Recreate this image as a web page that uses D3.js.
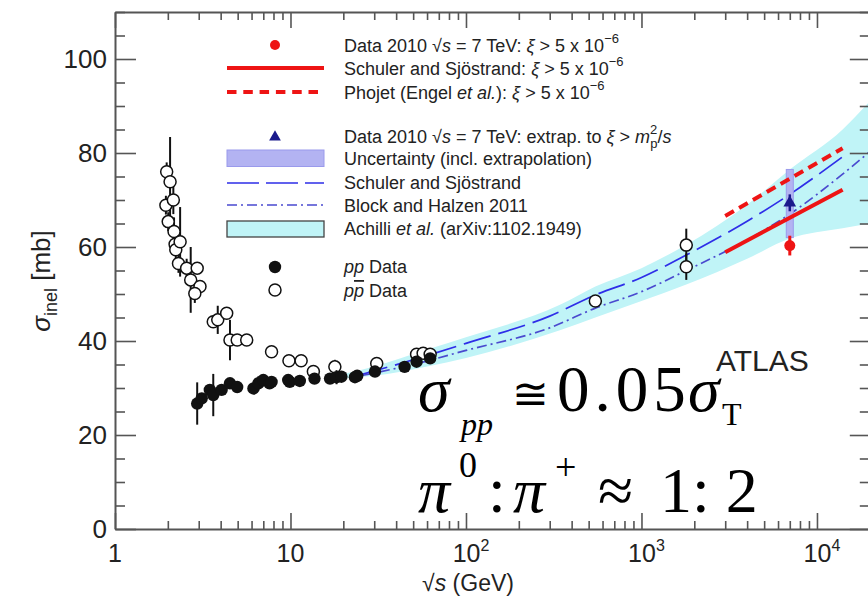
<!DOCTYPE html>
<html><head><meta charset="utf-8">
<script src="https://cdn.jsdelivr.net/npm/d3@7"></script>
<style>body{margin:0;background:#fff} svg{display:block}</style>
</head><body><svg id="c" width="868" height="603"></svg>
<script>
// ---------------- data (sqrt(s) in GeV, sigma in mb) ----------------
const ppbarData = [ // [sqrt s, sigma, err]
  [1.97,76.0,2],[2.06,73.9,9.5],[1.95,68.9,2],[2.15,70.0,3],[2.01,65.4,2],[2.17,63.3,3],
  [2.20,60.6,2],[2.22,59.4,2],[2.35,61.1,7.4],[2.30,56.5,2],[2.56,55.5,2],[2.94,55.5,1],
  [2.70,53.0,7],[3.05,51.6,1],[2.85,50.1,2],[3.63,44.1,1],[3.85,44.5,3],[4.33,45.9,1],
  [4.52,40.2,4.3],[4.97,40.2,1],[5.63,40.2,1],[7.8,37.7,0.5],[9.8,35.8,0.5],[11.5,35.8,0.5],
  [13.5,33.5,1.2],[17.9,34.5,1.5],[31,35.2,0.5],[52.3,37.2,0.5],[57,37.4,0.5],[62.5,37.2,0.5],
  [546,48.5,1],[1800,60.4,3.5],[1800,55.8,2.8]
];
const ppData = [
  [2.94,26.7,4.5],[3.12,27.8,1],[3.47,29.6,1],[3.63,28.5,4.5],[4.05,29.6,1],[4.52,31.0,1],
  [4.97,30.2,0.5],[6.15,29.9,0.5],[6.56,31.0,1.5],[7.0,31.7,0.5],[7.6,31.0,0.5],[7.8,31.3,0.5],
  [9.7,31.7,0.5],[9.9,31.3,0.3],[11.3,31.5,0.5],[13.7,32.0,0.5],[16.8,32.0,0.5],[18.3,32.3,1.5],
  [19.5,32.4,0.5],[23.3,32.3,0.5],[24,32.6,0.5],[30.3,33.5,0.5],[44.7,34.5,0.5],[52.3,35.6,0.5],
  [62.5,36.3,0.5]
];
const atlasXi = [[7000,60.3,2.1]];
const atlasExtrap = [[7000,69.4,1.8]];
const atlasUncert = [[7000,62.0,76.5]];          // [sqrt s, low, high]
const schulerXi = [[3000,58.9],[14000,72.2]];
const phojetXi = [[3000,66.6],[14000,81.0]];
const schulerTot = [[25,32.8],[50,36.0],[100,39.5],[300,45.3],[546,49.8],[1000,53.5],[1800,58.3],[4000,65.5],[7000,71.2],[14000,79.2]];
const blockHalzen = [[25,32.6],[50,35.0],[100,38.0],[300,42.8],[546,47.0],[1000,50.5],[1800,55.0],[4000,61.5],[7000,67.0],[14000,75.5],[20000,80.3]];
const achilliBand = [[20,32.0,33.0],[30,32.6,34.6],[60,34.6,38.2],[100,36.4,40.8],[343,42.3,47.7],[546,45.0,51.6],[1000,48.5,55.5],[1800,52.0,60.5],[4000,57.5,69.0],[7000,61.8,76.5],[14000,64.0,85.0],[20000,65.0,91.0]];
const xMajorTicks = [1,10,100,1000,10000];
const xTickLabels = [["1",""],["10",""],["10","2"],["10","3"],["10","4"]];
const yMajorTicks = [0,20,40,60,80,100];
const yTickLabels = ["0","20","40","60","80","100"];

// ---------------- setup ----------------
const svg = d3.select("#c");
const x = d3.scaleLog().domain([1,20000]).range([115,869.8]);
const y = d3.scaleLinear().domain([0,110]).range([529,12]);
const SANS = "'Liberation Sans', Arial, Helvetica, sans-serif";
const SERIF = "'Liberation Serif', 'Times New Roman', serif";
const AX = "#555";
const RED = "#ee1414";

const xTickValues = [];
xMajorTicks.forEach(d => { for (let m=1;m<=9;m++){ const v=m*d; if (v<=20000) xTickValues.push(v);} });
const yTickValues = d3.range(0,111,5);
const isMajorX = d => Math.abs(Math.log10(d)-Math.round(Math.log10(d)))<1e-9;
const isMajorY = d => d%20===0;

// ---------------- band & curves ----------------
svg.append("path").datum(achilliBand)
  .attr("d", d3.area().x(d=>x(d[0])).y0(d=>y(d[1])).y1(d=>y(d[2])).curve(d3.curveMonotoneX))
  .attr("fill","#c0f4f7");

const line = d3.line().x(d=>x(d[0])).y(d=>y(d[1])).curve(d3.curveMonotoneX);
svg.append("path").datum(schulerTot).attr("d",line).attr("fill","none")
  .attr("stroke","#2e2ee8").attr("stroke-width",1.7).attr("stroke-dasharray","28,8");
svg.append("path").datum(blockHalzen).attr("d",line).attr("fill","none")
  .attr("stroke","#4a4acf").attr("stroke-width",1.7).attr("stroke-dasharray","10,4,2,4");

// uncertainty box
svg.selectAll(".unc").data(atlasUncert).enter().append("rect")
  .attr("x",d=>x(d[0])-3.5).attr("width",7)
  .attr("y",d=>y(d[2])).attr("height",d=>y(d[1])-y(d[2]))
  .attr("fill","#b3b3f2").attr("stroke","#9a9aec").attr("stroke-width",1);

svg.append("path").datum(schulerXi).attr("d",line).attr("fill","none")
  .attr("stroke",RED).attr("stroke-width",4);
svg.append("path").datum(phojetXi).attr("d",line).attr("fill","none")
  .attr("stroke",RED).attr("stroke-width",4).attr("stroke-dasharray","10,6");

// ---------------- data points ----------------
function errBars(data, color, w){
  svg.append("g").selectAll("line").data(data).enter().append("line")
    .attr("x1",d=>x(d[0])).attr("x2",d=>x(d[0]))
    .attr("y1",d=>y(d[1]-d[2])).attr("y2",d=>y(d[1]+d[2]))
    .attr("stroke",color).attr("stroke-width",w);
}
errBars(ppbarData,"#111",2);
svg.append("g").selectAll("circle").data(ppbarData).enter().append("circle")
  .attr("cx",d=>x(d[0])).attr("cy",d=>y(d[1])).attr("r",6)
  .attr("fill","#fff").attr("stroke","#111").attr("stroke-width",1.5);
errBars(ppData,"#111",2);
svg.append("g").selectAll("circle").data(ppData).enter().append("circle")
  .attr("cx",d=>x(d[0])).attr("cy",d=>y(d[1])).attr("r",6.2).attr("fill","#111");

errBars(atlasExtrap,"#1a1a8c",2.5);
svg.append("g").selectAll("path").data(atlasExtrap).enter().append("path")
  .attr("d",d3.symbol().type(d3.symbolTriangle).size(70))
  .attr("transform",d=>`translate(${x(d[0])},${y(d[1])})`).attr("fill","#1a1a8c");
errBars(atlasXi,RED,3);
svg.append("g").selectAll("circle").data(atlasXi).enter().append("circle")
  .attr("cx",d=>x(d[0])).attr("cy",d=>y(d[1])).attr("r",5.5).attr("fill",RED);

// ---------------- axes ----------------
function styleAxis(g){
  g.select(".domain").attr("stroke",AX).attr("stroke-width",2);
  g.selectAll(".tick line").attr("stroke",AX).attr("stroke-width",1.6);
}
const gB = svg.append("g").attr("transform",`translate(0,${y(0)})`)
  .call(d3.axisTop(x).tickValues(xTickValues).tickFormat("").tickSizeOuter(0));
gB.selectAll(".tick line").attr("y2",d=>isMajorX(d)?-16:-8); styleAxis(gB);
const gT = svg.append("g").attr("transform",`translate(0,${y(110)})`)
  .call(d3.axisBottom(x).tickValues(xTickValues).tickFormat("").tickSizeOuter(0));
gT.selectAll(".tick line").attr("y2",d=>isMajorX(d)?16:8); styleAxis(gT);
const gL = svg.append("g").attr("transform",`translate(${x(1)},0)`)
  .call(d3.axisRight(y).tickValues(yTickValues).tickFormat("").tickSizeOuter(0));
gL.selectAll(".tick line").attr("x2",d=>isMajorY(d)?21:10); styleAxis(gL);
const gR = svg.append("g").attr("transform",`translate(${x(20000)},0)`)
  .call(d3.axisLeft(y).tickValues(yTickValues).tickFormat("").tickSizeOuter(0));
gR.selectAll(".tick line").attr("x2",d=>isMajorY(d)?-20:-10); styleAxis(gR);

// tick labels
const xl = svg.append("g").selectAll("text").data(xMajorTicks).enter().append("text")
  .attr("x",(d,i)=>x(d)+(xTickLabels[i][1]?5:0)).attr("y",562).attr("text-anchor","middle")
  .attr("font-family",SANS).attr("font-size",25).attr("fill","#222");
xl.each(function(d,i){
  const t=d3.select(this); const lab=xTickLabels[i];
  t.append("tspan").text(lab[0]);
  if(lab[1]) t.append("tspan").attr("font-size",16).attr("dy",-11).text(lab[1]);
});
svg.append("g").selectAll("text").data(yMajorTicks).enter().append("text")
  .attr("x",107).attr("y",d=>y(d)+9).attr("text-anchor","end")
  .attr("font-family",SANS).attr("font-size",26).attr("fill","#222")
  .text((d,i)=>yTickLabels[i]);

// axis titles
const xt = svg.append("text").attr("x",468).attr("y",591).attr("text-anchor","middle")
  .attr("font-family",SANS).attr("font-size",23).attr("fill","#222");
xt.append("tspan").text("√");
xt.append("tspan").attr("font-style","italic").text("s");
xt.append("tspan").text(" (GeV)");
const yt = svg.append("text").attr("transform","translate(50,281) rotate(-90)").attr("text-anchor","middle")
  .attr("font-family",SANS).attr("font-size",26).attr("fill","#222");
yt.append("tspan").attr("font-style","italic").text("σ");
yt.append("tspan").attr("font-size",18).attr("dy",7).text("inel");
yt.append("tspan").attr("dy",-7).text(" [mb]");

// ---------------- legend ----------------
const lg = svg.append("g");
const LX0=227, LX1=324, TX=344;
function rich(yb, segs){
  const t = lg.append("text").attr("x",TX).attr("y",yb).attr("font-family",SANS)
    .attr("font-size",18).attr("fill","#222");
  let shift=0;
  segs.forEach(s=>{
    const sp=t.append("tspan").text(s.t);
    let target = s.sup?-9:(s.sub?5:0);
    if(s.dy!==undefined) target=s.dy;
    sp.attr("dy",target-shift); shift=target;
    if(s.sup||s.sub) sp.attr("font-size",13);
    if(s.i) sp.attr("font-style","italic");
    if(s.dx) sp.attr("dx",s.dx);
    if(s.ol) sp.style("text-decoration","overline");
  });
  return t;
}
lg.append("circle").attr("cx",275).attr("cy",45).attr("r",5).attr("fill",RED);
rich(52,[{t:"Data 2010 √"},{t:"s",i:1},{t:" = 7 TeV: "},{t:"ξ",i:1},{t:" > 5 x 10"},{t:"−6",sup:1}]);
lg.append("line").attr("x1",LX0).attr("x2",LX1).attr("y1",68).attr("y2",68).attr("stroke",RED).attr("stroke-width",4);
rich(75,[{t:"Schuler and Sjöstrand: "},{t:"ξ",i:1},{t:" > 5 x 10"},{t:"−6",sup:1}]);
lg.append("line").attr("x1",LX0).attr("x2",LX1).attr("y1",92).attr("y2",92).attr("stroke",RED).attr("stroke-width",4).attr("stroke-dasharray","9.5,6.8");
rich(99,[{t:"Phojet (Engel "},{t:"et al.",i:1},{t:"): "},{t:"ξ",i:1},{t:" > 5 x 10"},{t:"−6",sup:1}]);
lg.append("path").attr("d",d3.symbol().type(d3.symbolTriangle).size(60)).attr("transform","translate(275,137)").attr("fill","#1a1a8c");
rich(143,[{t:"Data 2010 √"},{t:"s",i:1},{t:" = 7 TeV: extrap. to  "},{t:"ξ",i:1},{t:" > "},{t:"m",i:1},{t:"2",sup:1},{t:"p",sub:1,dx:-7},{t:"/",dy:0},{t:"s",i:1}]);
lg.append("rect").attr("x",LX0).attr("y",150).attr("width",LX1-LX0).attr("height",16.5).attr("fill","#b3b3f2").attr("stroke","#9a9aec");
rich(165,[{t:"Uncertainty (incl. extrapolation)"}]);
lg.append("line").attr("x1",LX0).attr("x2",LX1).attr("y1",183).attr("y2",183).attr("stroke","#2e2ee8").attr("stroke-width",1.7).attr("stroke-dasharray","32,7");
rich(189,[{t:"Schuler and Sjöstrand"}]);
lg.append("line").attr("x1",LX0).attr("x2",LX1).attr("y1",205).attr("y2",205).attr("stroke","#4a4acf").attr("stroke-width",1.7).attr("stroke-dasharray","10,4,2,4");
rich(212,[{t:"Block and Halzen 2011"}]);
lg.append("rect").attr("x",LX0).attr("y",221).attr("width",LX1-LX0).attr("height",16).attr("fill","#c0f4f7").attr("stroke","#444").attr("stroke-width",1.3);
rich(235,[{t:"Achilli "},{t:"et al.",i:1},{t:" (arXiv:1102.1949)"}]);
lg.append("circle").attr("cx",275).attr("cy",267).attr("r",6.2).attr("fill","#111");
rich(273,[{t:"pp",i:1},{t:" Data"}]);
lg.append("circle").attr("cx",275).attr("cy",290).attr("r",6).attr("fill","#fff").attr("stroke","#111").attr("stroke-width",1.5);
rich(297,[{t:"p",i:1},{t:"p",i:1,ol:1},{t:" Data"}]);

// ATLAS label
svg.append("text").attr("x",716).attr("y",371).attr("font-family",SANS).attr("font-size",30).attr("fill","#222").text("ATLAS");

// ---------------- big formulas ----------------
const F = svg.append("g").attr("font-family",SERIF).attr("fill","#000");
function ftxt(xp,yp,size,str,ital,ls){
  const t=F.append("text").attr("x",xp).attr("y",yp).attr("font-size",size).attr("font-style",ital?"italic":"normal").text(str);
  if(ls) t.attr("letter-spacing",ls);
  return t;
}
ftxt(418,411,64,"σ",1);
ftxt(461,435,32,"pp",1);
ftxt(512,409,44,"≅",0);
ftxt(557,411,65,"0.05",0,5);
ftxt(688,411,64,"σ",1);
ftxt(722,425,32,"T",0);
ftxt(418,512,64,"π",1);
ftxt(459,477,36,"0",0);
ftxt(488,512,64,":",0);
ftxt(513,512,64,"π",1);
ftxt(555,480,38,"+",0);
ftxt(598,512,64,"≈",0);
ftxt(660,512,64,"1: 2",0);
</script></body></html>
